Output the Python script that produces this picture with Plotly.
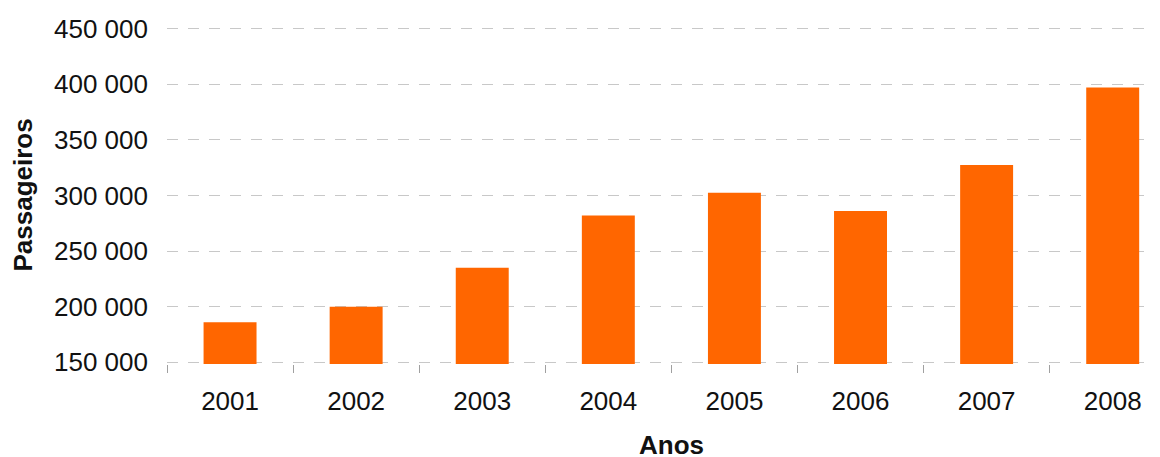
import plotly.graph_objects as go

years = ["2001", "2002", "2003", "2004", "2005", "2006", "2007", "2008"]
passengers = [186000, 200000, 235000, 282000, 302500, 286000, 327500, 397000]
y_ticks = [150000, 200000, 250000, 300000, 350000, 400000, 450000]

FONT = "Liberation Sans, Arial, sans-serif"

fig = go.Figure(go.Bar(
    x=years, y=passengers,
    marker=dict(color="#FF6600", line=dict(width=0)),
    width=0.42,
))

fig.update_layout(
    width=1152, height=449,
    margin=dict(l=159, r=0, t=19, b=93),
    paper_bgcolor="white", plot_bgcolor="white",
    separators=", ",
    showlegend=False,
    font=dict(family=FONT, size=26, color="#111111"),
    xaxis=dict(
        type="category",
        range=[-0.5, 7.375],
        tickson="boundaries",
        ticks="outside", ticklen=8, tickcolor="#a0a0a0", tickwidth=1,
        showgrid=False, showline=False, zeroline=False,
        tickfont=dict(size=26),
        ticklabelstandoff=19,
    ),
    yaxis=dict(
        range=[148500, 451500],
        tickvals=y_ticks,
        tickformat=",d",
        showgrid=True, gridcolor="#c8c8c8", gridwidth=1.2, griddash="11px,10px",
        zeroline=False, showline=False,
        ticks="", ticklabelstandoff=18,
        tickfont=dict(size=26),
    ),
    annotations=[
        dict(text="<b>Anos</b>", x=3.5, xref="x", y=-0.241, yref="paper",
             xanchor="center", yanchor="middle", showarrow=False,
             font=dict(size=26, family=FONT, color="#111111")),
        dict(text="<b>Passageiros</b>", x=-0.146, xref="paper", y=0.5, yref="paper",
             xanchor="center", yanchor="middle", textangle=-90, showarrow=False,
             font=dict(size=26, family=FONT, color="#111111")),
    ],
)

fig.write_html("out.html")
